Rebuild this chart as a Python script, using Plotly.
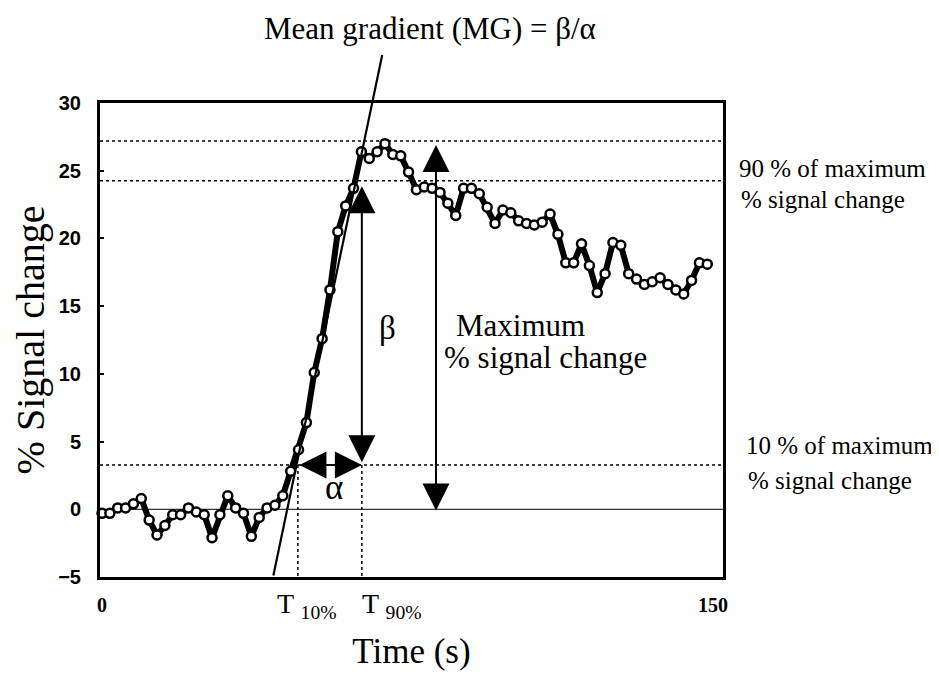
import plotly.graph_objects as go

# ---- data ----
time_s = [0, 1.93, 3.86, 5.79, 7.72, 9.65, 11.58, 13.51, 15.44, 17.37, 19.3, 21.23,
          23.16, 25.09, 27.02, 28.95, 30.88, 32.81, 34.74, 36.67, 38.6, 40.53, 42.46,
          44.39, 46.32, 48.25, 50.18, 52.11, 54.04, 55.97, 57.9, 59.83, 61.76, 63.69,
          65.62, 67.55, 69.48, 71.41, 73.34, 75.27, 77.2, 79.13, 81.06, 82.99, 84.92,
          86.85, 88.78, 90.71, 92.64, 94.57, 96.5, 98.43, 100.36, 102.29, 104.22,
          106.15, 108.08, 110.01, 111.94, 113.87, 115.8, 117.73, 119.66, 121.59,
          123.52, 125.45, 127.38, 129.31, 131.24, 133.17, 135.1, 137.03, 138.96,
          140.89, 142.82, 144.75, 146.68, 148.61]
signal_pct = [-0.3, -0.3, 0.1, 0.1, 0.4, 0.8, -0.8, -1.9, -1.2, -0.4, -0.4, 0.1,
              -0.2, -0.4, -2.1, -0.4, 1.0, 0.1, -0.3, -2.0, -0.6, 0.1, 0.3, 1.0,
              2.8, 4.4, 6.4, 10.1, 12.6, 16.2, 20.5, 22.4, 23.7, 26.4, 25.9, 26.4,
              27.0, 26.2, 26.1, 24.9, 23.6, 23.8, 23.7, 23.4, 22.6, 21.7, 23.7, 23.7,
              23.3, 22.3, 21.1, 22.1, 21.9, 21.3, 21.1, 21.0, 21.2, 21.8, 20.3, 18.2,
              18.2, 19.6, 18.0, 16.0, 17.4, 19.7, 19.5, 17.4, 17.0, 16.6, 16.8, 17.1,
              16.6, 16.2, 15.9, 16.9, 18.2, 18.1]

x_tick_vals = [0, 150]
y_tick_vals = [-5, 0, 5, 10, 15, 20, 25, 30]

max_level = 27.2      # maximum % signal change
level_90 = 24.25      # 90 % of maximum
level_10 = 3.27       # 10 % of maximum
t10 = 48.1            # T 10%
t90 = 63.8            # T 90%
t_max_arrow = 82.0
mg_t = [42.0, 68.8]   # mean-gradient line (time)
mg_y = [-5.0, 33.55]  # mean-gradient line (value)

SERIF = "Liberation Serif, Times New Roman, serif"
SANS = "Liberation Sans, Arial, sans-serif"

fig = go.Figure()
fig.add_trace(go.Scatter(
    x=time_s, y=signal_pct, mode="lines+markers",
    line=dict(color="black", width=6),
    marker=dict(symbol="circle", size=9, color="white",
                line=dict(color="black", width=2.5)),
    cliponaxis=False, showlegend=False))

shapes = []
for lev in [max_level, level_90, level_10]:
    shapes.append(dict(type="line", xref="paper", x0=0, x1=1, yref="y", y0=lev, y1=lev,
                       line=dict(color="black", width=1.5, dash="dot"), layer="below"))
shapes.append(dict(type="line", xref="paper", x0=0, x1=1, yref="y", y0=0, y1=0,
                   line=dict(color="black", width=1), layer="below"))
for tv in [t10, t90]:
    shapes.append(dict(type="line", xref="x", x0=tv, x1=tv, yref="y", y0=level_10, y1=-5,
                       line=dict(color="black", width=1.5, dash="dot"), layer="below"))

annotations = []
# mean gradient line (drawn as an arrow without a head so it can leave the plot box)
annotations.append(dict(x=mg_t[1], y=mg_y[1], ax=mg_t[0], ay=mg_y[0], xref="x", yref="y",
                        axref="x", ayref="y", text="", showarrow=True, arrowhead=0,
                        arrowwidth=2.2, arrowcolor="black", standoff=0, startstandoff=0))
arrow_common = dict(xref="x", yref="y", axref="x", ayref="y", text="", showarrow=True,
                    arrowhead=2, arrowside="end+start", startarrowhead=2, arrowsize=2.7,
                    startarrowsize=2.7, arrowwidth=2, arrowcolor="black",
                    standoff=0, startstandoff=0)
# beta arrow
annotations.append(dict(x=t90, y=level_90 - 0.4, ax=t90, ay=level_10 + 0.1, **arrow_common))
# alpha arrow
annotations.append(dict(x=t90, y=level_10, ax=t10, ay=level_10, **arrow_common))
# maximum arrow
annotations.append(dict(x=t_max_arrow, y=max_level - 0.3, ax=t_max_arrow, ay=-0.2,
                        **arrow_common))

def txt(text, x, y, size, xref="x", yref="y", xanchor="center", yanchor="middle"):
    annotations.append(dict(text=text, x=x, y=y, xref=xref, yref=yref, showarrow=False,
                            xanchor=xanchor, yanchor=yanchor,
                            font=dict(family=SERIF, size=size, color="black")))

txt("Mean gradient (MG) = \u03b2/\u03b1", 0.53, 1.158, 31, xref="paper", yref="paper")
txt("\u03b2", 70.0, 13.4, 33)
txt("\u03b1", 57.0, 1.6, 35)
txt("Maximum", 86.5, 13.6, 31, xanchor="left")
txt("% signal change", 83.5, 11.2, 31, xanchor="left")
txt("90 % of maximum", 1.022, 25.2, 25, xref="paper", xanchor="left")
txt("% signal change", 1.025, 22.85, 25, xref="paper", xanchor="left")
txt("10 % of maximum", 1.033, 4.7, 25, xref="paper", xanchor="left")
txt("% signal change", 1.037, 2.1, 25, xref="paper", xanchor="left")
txt("T <sub>10%</sub>", 42.5, -0.06, 28, yref="paper", xanchor="left")
txt("T <sub>90%</sub>", 63.3, -0.06, 28, yref="paper", xanchor="left")

# the page adds an 8 px body margin, so the figure is 8 px smaller and shifted
fig.update_layout(
    width=931, height=671,
    margin=dict(l=92, r=216, t=95, b=102, autoexpand=False),
    paper_bgcolor="white", plot_bgcolor="white",
    shapes=shapes, annotations=annotations,
    xaxis=dict(range=[-0.49, 152.47], tickvals=x_tick_vals, ticks="",
               showline=True, mirror=True, linewidth=3, linecolor="black",
               showgrid=False, zeroline=False,
               tickfont=dict(family=SERIF, size=20, color="black", weight="bold"),
               ticklabelstandoff=8,
               title=dict(text="Time (s)", font=dict(family=SERIF, size=35, color="black"),
                          standoff=24)),
    yaxis=dict(range=[-5, 30], tickvals=y_tick_vals, ticks="inside", ticklen=4,
               tickwidth=2, tickcolor="black",
               showline=True, mirror=True, linewidth=3, linecolor="black",
               showgrid=False, zeroline=False,
               tickfont=dict(family=SANS, size=20, color="black", weight="bold"),
               ticklabelstandoff=12,
               title=dict(text="% Signal change", font=dict(family=SERIF, size=40, color="black"),
                          standoff=8)),
)

fig.write_html("out.html")
